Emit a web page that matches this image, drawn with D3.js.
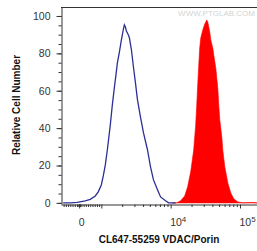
<!DOCTYPE html>
<html>
<head>
<meta charset="utf-8">
<script src="https://cdn.jsdelivr.net/npm/d3@7"></script>
<style>
  body { margin: 0; background: #fff; }
  svg { display: block; font-family: "Liberation Sans", Arial, sans-serif; }
</style>
</head>
<body>
<script>
// control (unstained) histogram: fluorescence intensity, relative count
var controlX = [-725,-407,-91,272,498,725,860,997,1066,1140,1219,1346,1440,1538,1644,1702,1820,
  1945,2080,2148,2223,2296,2455,2541,2716,2904,3104,3319,3664,4055,4634,5117,5649,6457,7145,8433,9333,11780];
var controlY = [0,0,0.3,1.1,1.9,3.7,5.9,9.6,14.4,20.3,28.3,41.7,52.4,61.5,70.1,74.9,80.7,
  87.2,93,95.2,94.1,92,89.8,88.2,81.8,72.7,64.2,55.1,46,37.4,28.3,19.3,12.3,7,3.2,1.1,0,0];

// stained sample histogram
var stainX = [10660,12190,13930,15920,17580,19450,21480,22960,23770,24550,25410,26240,27160,29040,
  31050,33190,34280,35480,36640,37930,39170,40550,41880,44770,47860,49430,51170,54700,56490,60390,
  66830,73790,81660,93330,110200,143900,182000];
var stainY = [0,0,1.1,3.7,8.6,16.6,28.3,41.7,52.4,63.1,73.8,82.9,88.2,92.5,
  95.7,97.9,96.8,94.1,91.4,87.2,85,82.9,79.1,72.2,61.5,52.4,44.4,35.3,28.3,19.3,
  10.7,5.3,2.1,0.5,0,0.2,0];

var yMajor = [0, 20, 40, 60, 80, 100];
var yMinor = d3.range(0, 101, 5);
var xMajor = [0, 1e3, 1e4, 1e5];
var xLabels = {0: ["0", ""], 10000: ["10", "4"], 100000: ["10", "5"]};
var xMinor = [-700,-600,-500,-400,-300,-200,-100,-30,-20,-10,10,20,30,100,200,300,400,500,600,700,800,900,
  2e3,3e3,4e3,5e3,6e3,7e3,8e3,9e3,2e4,3e4,4e4,5e4,6e4,7e4,8e4,9e4];

// logicle-like display transform: linear near zero, log above 1000
function T(v) {
  if (v < 1000) return v / 1000 * 0.32;
  return 0.32 + Math.log10(v / 1000);
}

var width = 257, height = 251;
var plotL = 61, plotR = 258, plotT = 7, plotB = 204;

var xs = d3.scaleLinear().domain([T(-820), T(182000)]).range([plotL, plotR]);
var x = function(v) { return xs(T(v)); };
var y = d3.scaleLinear().domain([-0.6, 104.8]).range([plotB, plotT]);

var svg = d3.select("body").append("svg")
    .attr("width", width)
    .attr("height", height);

var area = d3.area()
    .x(function(d) { return x(d[0]); })
    .y0(y(0))
    .y1(function(d) { return y(d[1]); });

var line = d3.line()
    .x(function(d) { return x(d[0]); })
    .y(function(d) { return y(d[1]); });

svg.append("path")
    .datum(d3.zip(stainX, stainY))
    .attr("fill", "#ff0000")
    .attr("stroke", "#ff0000")
    .attr("stroke-width", 0.6)
    .attr("d", area);

svg.append("path")
    .datum(d3.zip(controlX, controlY))
    .attr("fill", "none")
    .attr("stroke", "#2d2f96")
    .attr("stroke-width", 1.3)
    .attr("d", line);

// watermark
svg.append("text")
    .attr("x", 255).attr("y", 16)
    .attr("text-anchor", "end")
    .attr("font-size", 8)
    .attr("fill", "#d4d4d4")
    .text("WWW.PTGLAB.COM");

// frame top
svg.append("line")
    .attr("x1", plotL).attr("x2", width)
    .attr("y1", plotT + 0.5).attr("y2", plotT + 0.5)
    .attr("stroke", "#333");

// y axis
svg.append("g")
    .attr("transform", "translate(" + (plotL + 0.5) + ",0)")
    .call(d3.axisLeft(y).tickValues(yMinor).tickSize(3).tickFormat(""))
    .call(function(g) { g.select(".domain").remove(); g.selectAll("line").attr("stroke", "#333"); });

var gy = svg.append("g")
    .attr("transform", "translate(" + (plotL + 0.5) + ",0)")
    .call(d3.axisLeft(y).tickValues(yMajor).tickSize(5).tickPadding(6).tickSizeOuter(0));
gy.selectAll("text").attr("font-size", 10.5).attr("fill", "#333").attr("font-family", null);
gy.select(".domain").attr("stroke", "#333");
gy.selectAll("line").attr("stroke", "#333");

// x axis
svg.append("g")
    .attr("transform", "translate(0," + (plotB + 0.5) + ")")
    .call(d3.axisBottom(xs).tickValues(xMinor.map(T)).tickSize(2.5).tickFormat(""))
    .call(function(g) { g.select(".domain").remove(); g.selectAll("line").attr("stroke", "#333"); });

var gx = svg.append("g")
    .attr("transform", "translate(0," + (plotB + 0.5) + ")")
    .call(d3.axisBottom(xs).tickValues(xMajor.map(T)).tickSize(4).tickPadding(10).tickSizeOuter(0).tickFormat(""));
gx.select(".domain").attr("stroke", "#333");
gx.selectAll("line").attr("stroke", "#333");

gx.selectAll(".tick").each(function(d, i) {
  var lab = xLabels[xMajor[i]];
  if (!lab) return;
  var t = d3.select(this).select("text")
      .attr("font-size", 10.5).attr("fill", "#333").attr("font-family", null)
      .attr("dy", "0.71em");
  if (lab[1]) t.attr("text-anchor", "start").attr("x", -1);
  else t.attr("x", 2);
  t.append("tspan").text(lab[0]);
  if (lab[1]) t.append("tspan").attr("dy", "-0.45em").attr("font-size", 8).text(lab[1]);
});

// axis titles
svg.append("text")
    .attr("x", 159).attr("y", 243)
    .attr("text-anchor", "middle")
    .attr("font-size", 10)
    .attr("font-weight", "bold")
    .attr("fill", "#111")
    .text("CL647-55259 VDAC/Porin");

svg.append("text")
    .attr("transform", "translate(20,105) rotate(-90)")
    .attr("text-anchor", "middle")
    .attr("font-size", 10)
    .attr("font-weight", "bold")
    .attr("fill", "#111")
    .text("Relative Cell Number");
</script>
</body>
</html>
